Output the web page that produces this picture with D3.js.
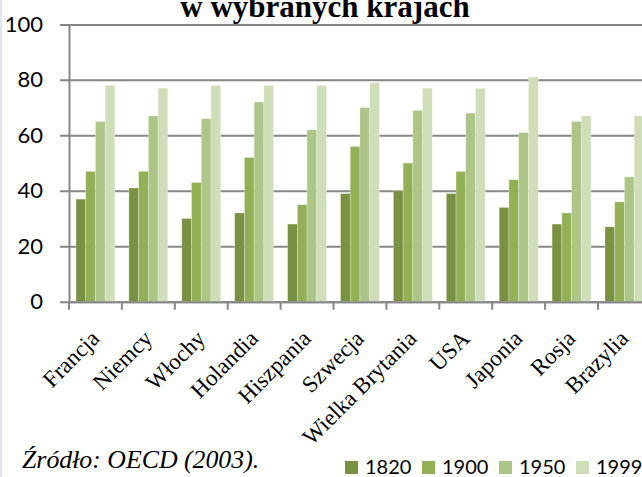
<!DOCTYPE html>
<html>
<head>
<meta charset="utf-8">
<script src="https://cdn.jsdelivr.net/npm/d3@7"></script>
<style>
  html, body { margin: 0; padding: 0; background: #fff; }
  svg { display: block; }
</style>
</head>
<body>
<div id="chart"></div>
<script>
// data
const countries = ["Francja", "Niemcy", "Włochy", "Holandia", "Hiszpania", "Szwecja",
                   "Wielka Brytania", "USA", "Japonia", "Rosja", "Brazylia"];
const years = ["1820", "1900", "1950", "1999"];
const v1820 = [37, 41, 30, 32, 28, 39, 40, 39, 34, 28, 27];
const v1900 = [47, 47, 43, 52, 35, 56, 50, 47, 44, 32, 36];
const v1950 = [65, 67, 66, 72, 62, 70, 69, 68, 61, 65, 45];
const v1999 = [78, 77, 78, 78, 78, 79, 77, 77, 81, 67, 67];
const yTicks = [0, 20, 40, 60, 80, 100];
const colors = ["#7a9143", "#93b057", "#adc688", "#cfddb9"];

const series = [v1820, v1900, v1950, v1999];
const rows = countries.map((c, i) => ({
    country: c,
    values: years.map((y, k) => ({ year: y, value: series[k][i] }))
}));

// ==========================
// SVG Setup
// ==========================
const width = 642, height = 477;
const svg = d3.select("#chart").append("svg")
    .attr("width", width)
    .attr("height", height);

// faint left border
svg.append("rect")
    .attr("x", 0).attr("y", 0)
    .attr("width", 2).attr("height", height)
    .attr("fill", "#e4e4f4");

const plotLeft = 69, plotTop = 24.4, plotBottom = 301.7;
const band = 52.9;

// ==========================
// Scales
// ==========================
const x = d3.scaleBand()
    .domain(countries)
    .range([plotLeft, plotLeft + band * countries.length])
    .padding(0);

const xInner = d3.scaleBand()
    .domain(years)
    .range([7, x.bandwidth() - 7])
    .padding(0);

const y = d3.scaleLinear()
    .domain([0, 100])
    .range([plotBottom, plotTop]);

const color = d3.scaleOrdinal().domain(years).range(colors);

// ==========================
// Gridlines + y labels
// ==========================
const gridAxis = svg.append("g")
    .attr("transform", `translate(${plotLeft - 9},0)`)
    .call(d3.axisLeft(y).tickValues(yTicks).tickSize(-(width + 40)).tickPadding(17));

gridAxis.select(".domain").remove();
gridAxis.selectAll("line")
    .attr("stroke", "#878787")
    .attr("stroke-width", 2);
gridAxis.selectAll("text")
    .style("font-family", "Lato, 'Open Sans', sans-serif")
    .style("font-size", "22px")
    .attr("fill", "#000");

// ==========================
// Bars
// ==========================
const groups = svg.selectAll(".group")
    .data(rows)
    .enter()
    .append("g")
    .attr("class", "group")
    .attr("transform", d => `translate(${x(d.country)},0)`);

groups.selectAll("rect")
    .data(d => d.values)
    .enter()
    .append("rect")
    .attr("x", d => xInner(d.year))
    .attr("y", d => y(d.value))
    .attr("width", xInner.bandwidth())
    .attr("height", d => y(0) - y(d.value))
    .attr("fill", d => color(d.year))
    .attr("stroke", "rgba(255,255,255,0.45)")
    .attr("stroke-width", 0.6);

// ==========================
// Axes lines
// ==========================
const yAxisLine = svg.append("g")
    .attr("transform", `translate(${plotLeft},0)`)
    .call(d3.axisLeft(y).tickValues([]).tickSizeOuter(0));
yAxisLine.select(".domain")
    .attr("stroke", "#878787")
    .attr("stroke-width", 2);

const xAxis = svg.append("g")
    .attr("transform", `translate(0,${plotBottom})`)
    .call(d3.axisBottom(x).tickSize(0).tickSizeOuter(0));

xAxis.select(".domain")
    .attr("stroke", "#878787")
    .attr("stroke-width", 2);

// tick marks sit on the band boundaries
xAxis.selectAll(".bound")
    .data(countries.concat(["end"]))
    .enter()
    .append("line")
    .attr("class", "bound")
    .attr("x1", d => d === "end" ? x.range()[1] : x(d))
    .attr("x2", d => d === "end" ? x.range()[1] : x(d))
    .attr("y1", 0)
    .attr("y2", 8)
    .attr("stroke", "#878787")
    .attr("stroke-width", 2);

xAxis.selectAll(".tick text")
    .attr("x", 0)
    .attr("y", 0)
    .attr("dy", "0.75em")
    .attr("text-anchor", "end")
    .attr("transform", "translate(-7,26) rotate(-45)")
    .style("font-family", "'Liberation Serif', 'Times New Roman', serif")
    .style("font-size", "23px")
    .attr("fill", "#000");

// ==========================
// Title
// ==========================
svg.append("text")
    .attr("x", 325)
    .attr("y", 17)
    .attr("text-anchor", "middle")
    .style("font-family", "'Liberation Serif', 'Times New Roman', serif")
    .style("font-weight", "bold")
    .style("font-size", "31px")
    .text("w wybranych krajach");

// ==========================
// Source
// ==========================
svg.append("text")
    .attr("x", 22)
    .attr("y", 468)
    .style("font-family", "'Liberation Serif', 'Times New Roman', serif")
    .style("font-style", "italic")
    .style("font-size", "25.8px")
    .text("Źródło: OECD (2003).");

// ==========================
// Legend
// ==========================
const legend = svg.append("g")
    .attr("transform", "translate(345,461)");

const item = legend.selectAll(".item")
    .data(years)
    .enter()
    .append("g")
    .attr("class", "item")
    .attr("transform", (d, i) => `translate(${i * 77},0)`);

item.append("rect")
    .attr("width", 13)
    .attr("height", 13)
    .attr("fill", d => color(d));

item.append("text")
    .attr("x", 20)
    .attr("y", 13)
    .style("font-family", "Lato, 'Open Sans', sans-serif")
    .style("font-size", "20px")
    .text(d => d);
</script>
</body>
</html>
